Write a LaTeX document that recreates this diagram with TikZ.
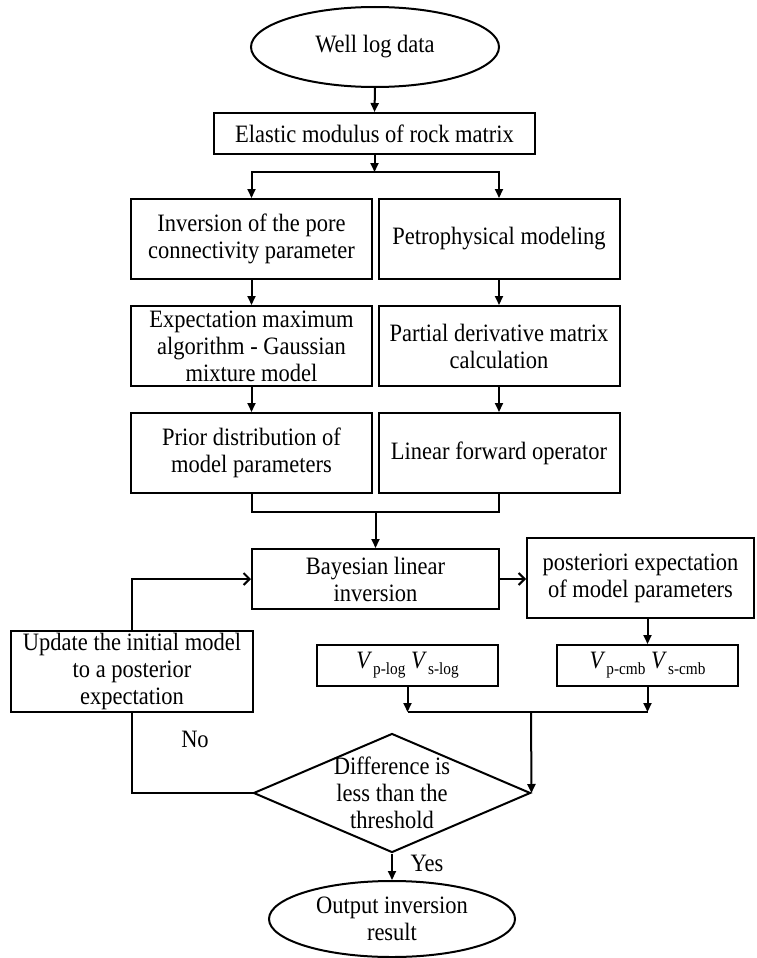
\documentclass[tikz,border=0pt]{standalone}
\usepackage{fontspec}
\setmainfont{Liberation Serif}[FakeStretch=0.9]
\usepackage{tikz}
\usetikzlibrary{arrows.meta, positioning, shapes.geometric}
\tikzset{%
	every box/.style={
		draw,
		line width=2pt,
		align=center,
		inner sep=2pt
	},
	terminal/.style={
		every box,
		ellipse
	},
	arr/.style={
		line width=2pt,
		-{Triangle[length=9pt,width=8pt]}
	},
	harr/.style={
		line width=2pt,
		-{Straight Barb[length=6pt,width=12pt,line width=2pt]}
	},
	link/.style={
		line width=2pt
	},
}

\begin{document}
\begin{tikzpicture}[x=1pt, y=-1pt, font=\fontsize{25}{27}\selectfont]
			% Fix the size of the picture
			\useasboundingbox (0,0) rectangle (756,958);
			% Velocity with a subscript
			\newcommand{\Vel}[1]{\textit{V}\kern1pt\raisebox{-6pt}{\fontsize{17}{17}\selectfont #1}}
			
			% Start and the rock matrix
			\node[terminal, minimum width=248, minimum height=80] (wld) at (375,47) {Well log data};
			\node[every box, minimum width=321, minimum height=41] (emr) at (374.5,133.5) {Elastic modulus of rock matrix};
			\coordinate (split) at (374.5,172);
			
			% Two columns of boxes
			\foreach \name/\x/\y/\txt in {
				ipc/251.5/239/{Inversion of the pore\\connectivity parameter},
				pm/499/239/{Petrophysical modeling},
				em/251.5/346/{Expectation maximum\\algorithm - Gaussian\\mixture model},
				pdm/499/346/{Partial derivative matrix\\calculation},
				pd/251.5/453/{Prior distribution of\\model parameters},
				lfo/499/453/{Linear forward operator}} {
				\node[every box, minimum width=241, minimum height=80] (\name) at (\x,\y) {\txt};
			}
			\coordinate (merge) at (375.5,512);
			
			% Inversion and its result
			\node[every box, minimum width=247, minimum height=60] (bli) at (375.5,579) {Bayesian linear\\inversion};
			\node[every box, minimum width=227, minimum height=80] (pem) at (640.5,578) {posteriori expectation\\of model parameters};
			\node[every box, minimum width=181, minimum height=41] (vlog) at (407.5,665.5) {\Vel{p-log} \Vel{s-log}};
			\node[every box, minimum width=181, minimum height=41] (vcmb) at (647.5,665.5) {\Vel{p-cmb} \Vel{s-cmb}};
			\node[every box, minimum width=242, minimum height=79] (upd) at (132,671.5) {Update the initial model\\to a posterior\\expectation};
			\coordinate (join) at (531,712);
			
			% Check of the difference
			\node[draw, line width=2pt, diamond, minimum width=277, minimum height=119, inner sep=0pt] (diff) at (392,793) {};
			\node[align=center, inner sep=0pt] (difftxt) at (diff.center) {Difference is\\less than the\\threshold};
			\node[terminal, minimum width=246, minimum height=76] (out) at (392,919) {Output inversion\\result};
			\node (no) at (195,739) {No};
			\node (yes) at (427,863) {Yes};
			
			% Connectors
			\draw[arr] (wld.south) -- (emr.north);
			\draw[arr] (emr.south) -- (split);
			\draw[arr] (split) -| (ipc.north);
			\draw[arr] (split) -| (pm.north);
			\draw[arr] (ipc.south) -- (em.north);
			\draw[arr] (pm.south) -- (pdm.north);
			\draw[arr] (em.south) -- (pd.north);
			\draw[arr] (pdm.south) -- (lfo.north);
			\draw[link] (pd.south) |- (merge) -| (lfo.south);
			\draw[arr] (merge) -- (bli.north);
			\draw[harr] (bli.east) -- (bli.east -| pem.west);
			\draw[arr] (vcmb.north |- pem.south) -- (vcmb.north);
			\draw[arr] (vlog.south) -- (vlog.south |- join);
			\draw[arr] (vcmb.south) -- (vcmb.south |- join);
			\draw[link] (vlog.south |- join) -- (vcmb.south |- join);
			\draw[arr] (join) -- (diff.east);
			\draw[link] (diff.west) -| (upd.south);
			\draw[harr] (upd.north) |- (bli.west);
			\draw[arr] (diff.south) -- (out.north);
		\end{tikzpicture}
\end{document}
